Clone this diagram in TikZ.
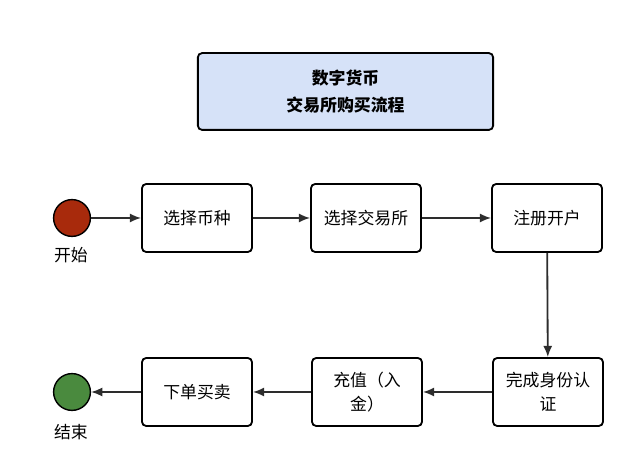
\documentclass[tikz,border=0pt]{standalone}
\usepackage{fontspec}
\setmainfont{Noto Sans CJK SC}
\usetikzlibrary{arrows.meta}

\definecolor{titlefill}{RGB}{214,226,248}
\definecolor{startred}{RGB}{168,42,12}
\definecolor{endgreen}{RGB}{74,138,62}
\definecolor{linegray}{RGB}{45,45,45}

\tikzstyle{line} = [draw, linegray, line width=1.3pt, -{Latex[length=8pt,width=6.5pt]}]
\tikzstyle{stepbox} = [draw, line width=1.3pt, rounded corners=3pt, fill=white, minimum width=2.75cm, minimum height=1.7cm, align=center, font=\fontsize{12}{17}\selectfont]
\tikzstyle{terminal} = [draw, line width=1pt, circle, minimum size=0.92cm, inner sep=0pt]

\begin{document}
\begin{tikzpicture}[x=0.025cm, y=-0.025cm]
		\useasboundingbox (0,0) rectangle (640,464);
		\node [draw, line width=1.3pt, rounded corners=3pt, fill=titlefill, minimum width=7.38cm, minimum height=1.92cm, align=center, font=\fontsize{12}{19}\selectfont\bfseries] (title) at (345.5,91.5) {数字货币\\交易所购买流程}; % Titel
		\node [terminal, fill=startred] (start) at (72,218) {};
		\node [font=\fontsize{12}{14}\selectfont] (startlabel) at (71,255) {开始};
		\node [stepbox] (coin) at (197,218) {选择币种};
		\node [stepbox] (exchange) at (366,218) {选择交易所};
		\node [stepbox] (register) at (547,218) {注册开户};
		\node [stepbox] (verify) at (548,392) {完成身份认\\证};
		\node [stepbox] (deposit) at (367,392) {充值（入\\金）};
		\node [stepbox] (trade) at (197,392) {下单买卖};
		\node [terminal, fill=endgreen] (end) at (72,392) {};
		\node [font=\fontsize{12}{14}\selectfont] (endlabel) at (71,432) {结束};
		
		\path [line] (start) -- (coin);
		\path [line] (coin) -- (exchange);
		\path [line] (exchange) -- (register);
		\path [line] (register) -- (verify);
		\path [line] (verify) -- (deposit);
		\path [line] (deposit) -- (trade);
		\path [line] (trade) -- (end);
		
	\end{tikzpicture}
\end{document}
